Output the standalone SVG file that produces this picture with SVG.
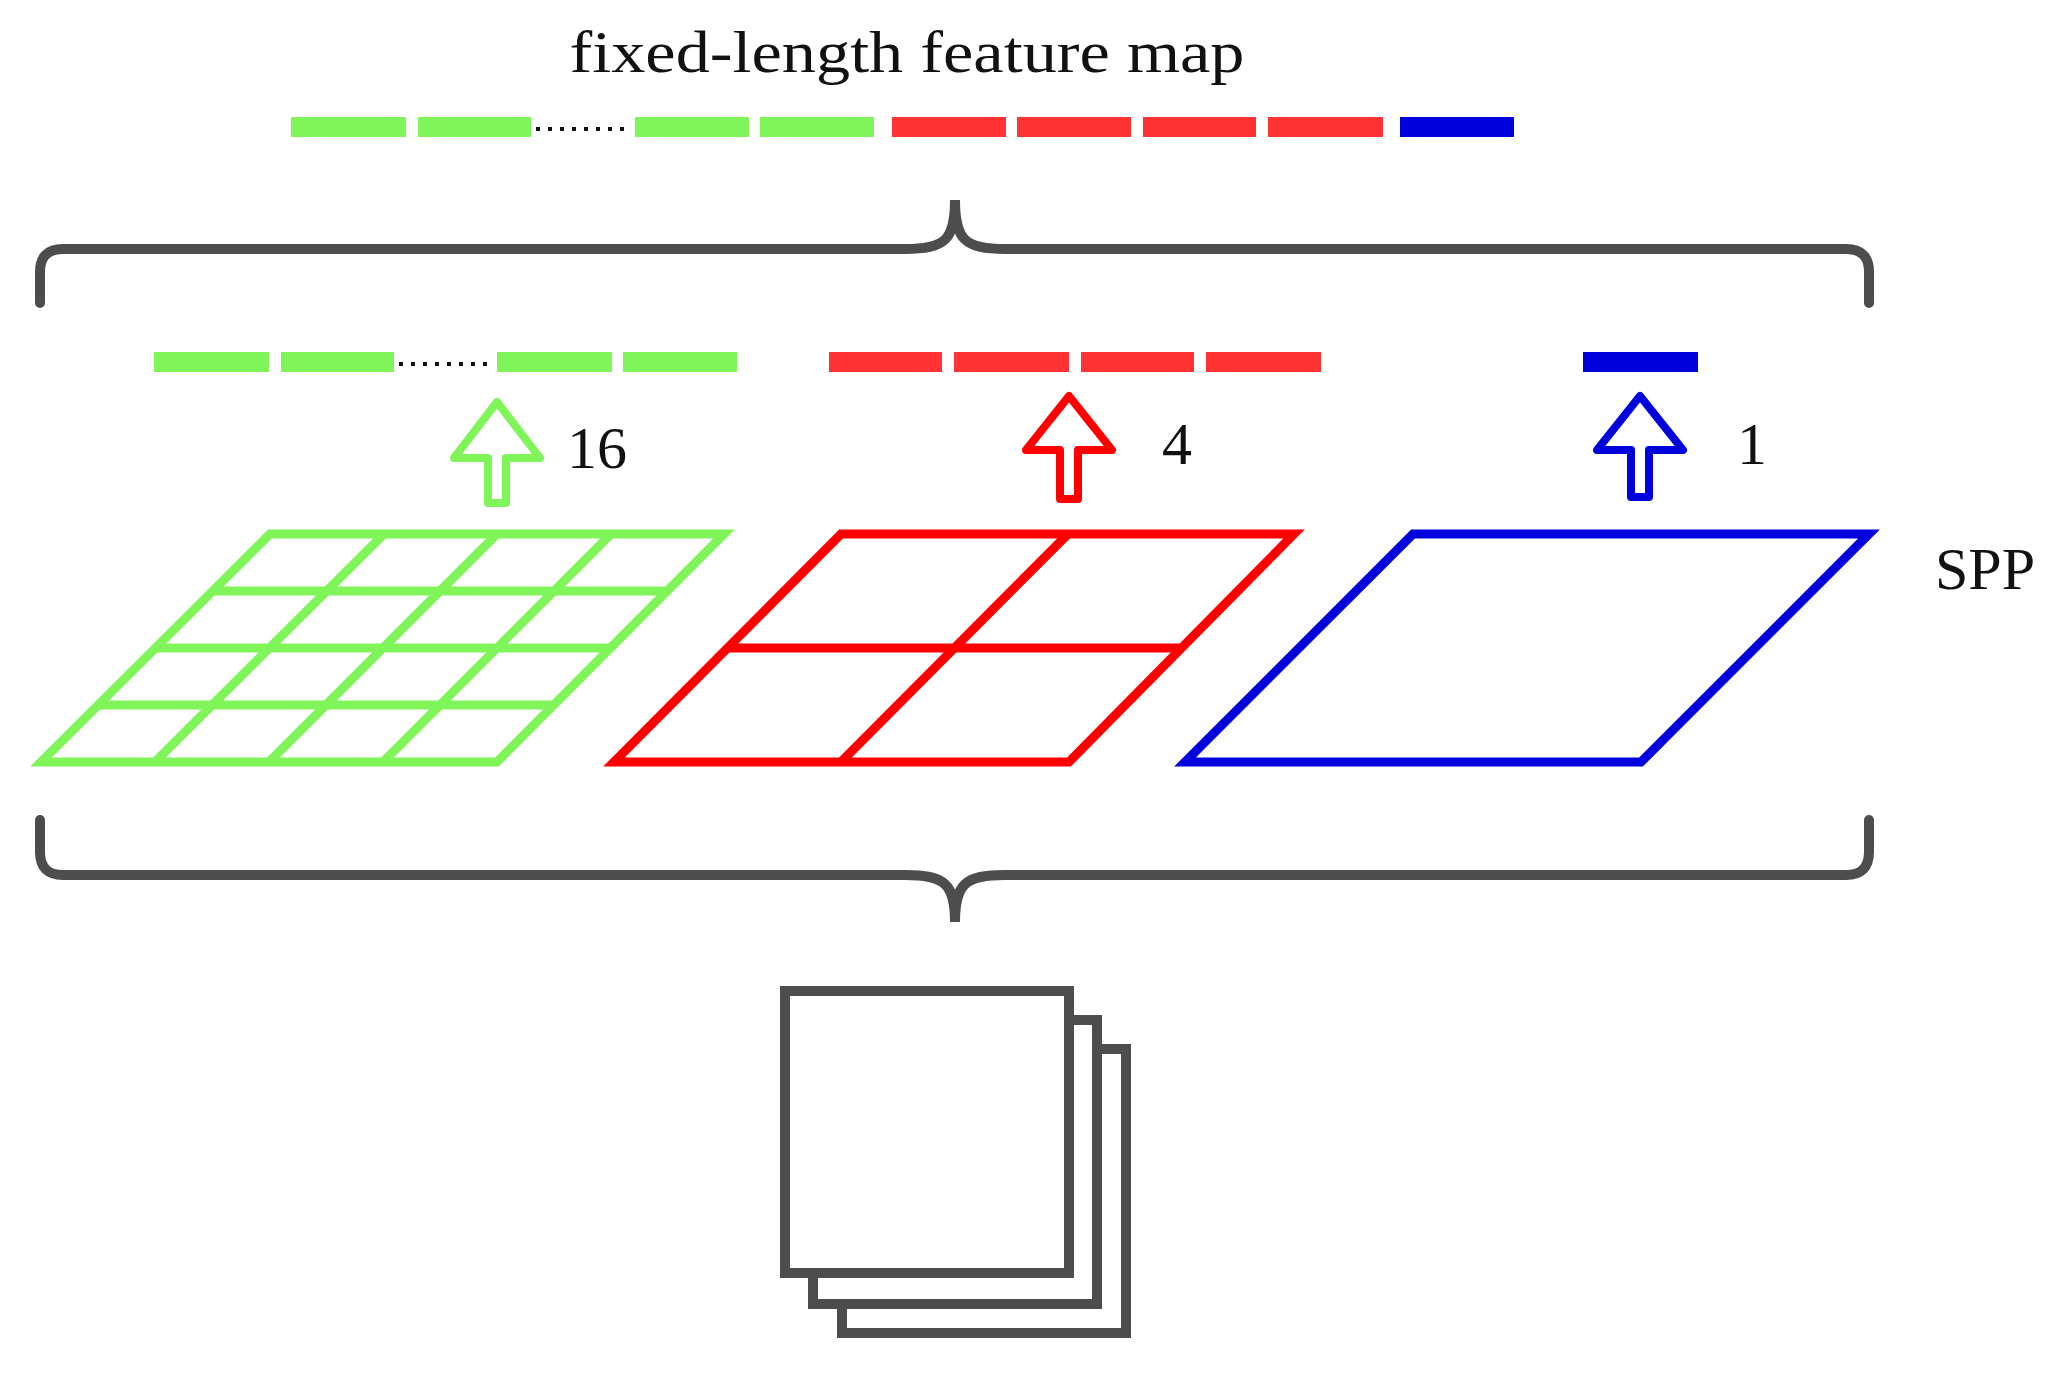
<svg xmlns="http://www.w3.org/2000/svg" width="2067" height="1374" viewBox="0 0 2067 1374">
<style>
.t{font-family:"Liberation Serif","Times New Roman",serif;fill:#111}
.g{fill:#80f55a}.r{fill:#ff3333}.b{fill:#0000dd}
.brace{fill:none;stroke:#4d4d4d;stroke-width:10;stroke-linecap:round}
.dots{stroke:#111;stroke-width:4;stroke-dasharray:4 8}
.sq{fill:#fff;stroke:#4d4d4d;stroke-width:10}
</style>
<rect width="2067" height="1374" fill="#fff"/>
<text class="t" x="907" y="72" font-size="60" text-anchor="middle" textLength="675" lengthAdjust="spacingAndGlyphs">fixed-length feature map</text>
<g id="top-vector">
<rect class="g" x="291" y="117" width="115" height="20"/><rect class="g" x="418" y="117" width="113" height="20"/>
<line class="dots" x1="536" y1="129" x2="630" y2="129"/>
<rect class="g" x="635" y="117" width="114" height="20"/><rect class="g" x="760" y="117" width="114" height="20"/>
<rect class="r" x="892" y="117" width="114" height="20"/><rect class="r" x="1017" y="117" width="114" height="20"/>
<rect class="r" x="1143" y="117" width="113" height="20"/><rect class="r" x="1268" y="117" width="115" height="20"/>
<rect class="b" x="1400" y="117" width="114" height="20"/>
</g>
<g id="connectors">
<path class="brace" d="M40,303 V272 Q40,249 63,249 H905 C945,249 955,240 955,200 C955,240 965,249 1005,249 H1846 Q1869,249 1869,272 V303"/>
<path class="brace" d="M40,820 V852 Q40,875 63,875 H905 C945,875 955,884 955,922 C955,884 965,875 1005,875 H1846 Q1869,875 1869,852 V820"/>
<polygon points="497,402 540,458 506,458 506,503 488,503 488,458 454,458" fill="none" stroke="#80f55a" stroke-width="8" stroke-linejoin="round"/>
<polygon points="1069,396 1112,450 1078,450 1078,499 1060,499 1060,450 1026,450" fill="none" stroke="#ff0000" stroke-width="8" stroke-linejoin="round"/>
<polygon points="1640,396 1683,450 1649,450 1649,497 1631,497 1631,450 1597,450" fill="none" stroke="#0000dd" stroke-width="8" stroke-linejoin="round"/>
</g>
<g id="level-vectors">
<rect class="g" x="154" y="352" width="115" height="20"/><rect class="g" x="281" y="352" width="113" height="20"/>
<line class="dots" x1="399" y1="364" x2="492" y2="364"/>
<rect class="g" x="497" y="352" width="115" height="20"/><rect class="g" x="623" y="352" width="114" height="20"/>
<rect class="r" x="829" y="352" width="113" height="20"/><rect class="r" x="954" y="352" width="115" height="20"/>
<rect class="r" x="1081" y="352" width="113" height="20"/><rect class="r" x="1206" y="352" width="115" height="20"/>
<rect class="b" x="1583" y="352" width="115" height="20"/>
</g>
<text class="t" x="567" y="468" font-size="60">16</text>
<text class="t" x="1162" y="464" font-size="60">4</text>
<text class="t" x="1737" y="464" font-size="60">1</text>
<text class="t" x="1935" y="589" font-size="60">SPP</text>
<g id="grid16" fill="none" stroke="#80f55a" stroke-width="9">
<polygon points="270,534 724,534 497,762 41,762"/>
<path d="M213,591 H668 M155,648 H611 M98,705 H554 M384,534 L155,762 M497,534 L269,762 M611,534 L383,762"/>
</g>
<g id="grid4" fill="none" stroke="#ff0000" stroke-width="9">
<polygon points="841,534 1294,534 1069,762 614,762"/>
<path d="M727,648 H1181 M1068,534 L841,762"/>
</g>
<g id="grid1" fill="none" stroke="#0000dd" stroke-width="9">
<polygon points="1413,534 1869,534 1641,762 1185,762"/>
</g>
<g id="feature-maps">
<rect class="sq" x="842" y="1049" width="284" height="284"/>
<rect class="sq" x="813" y="1020" width="284" height="284"/>
<rect class="sq" x="785" y="991" width="284" height="282"/>
</g>
</svg>
